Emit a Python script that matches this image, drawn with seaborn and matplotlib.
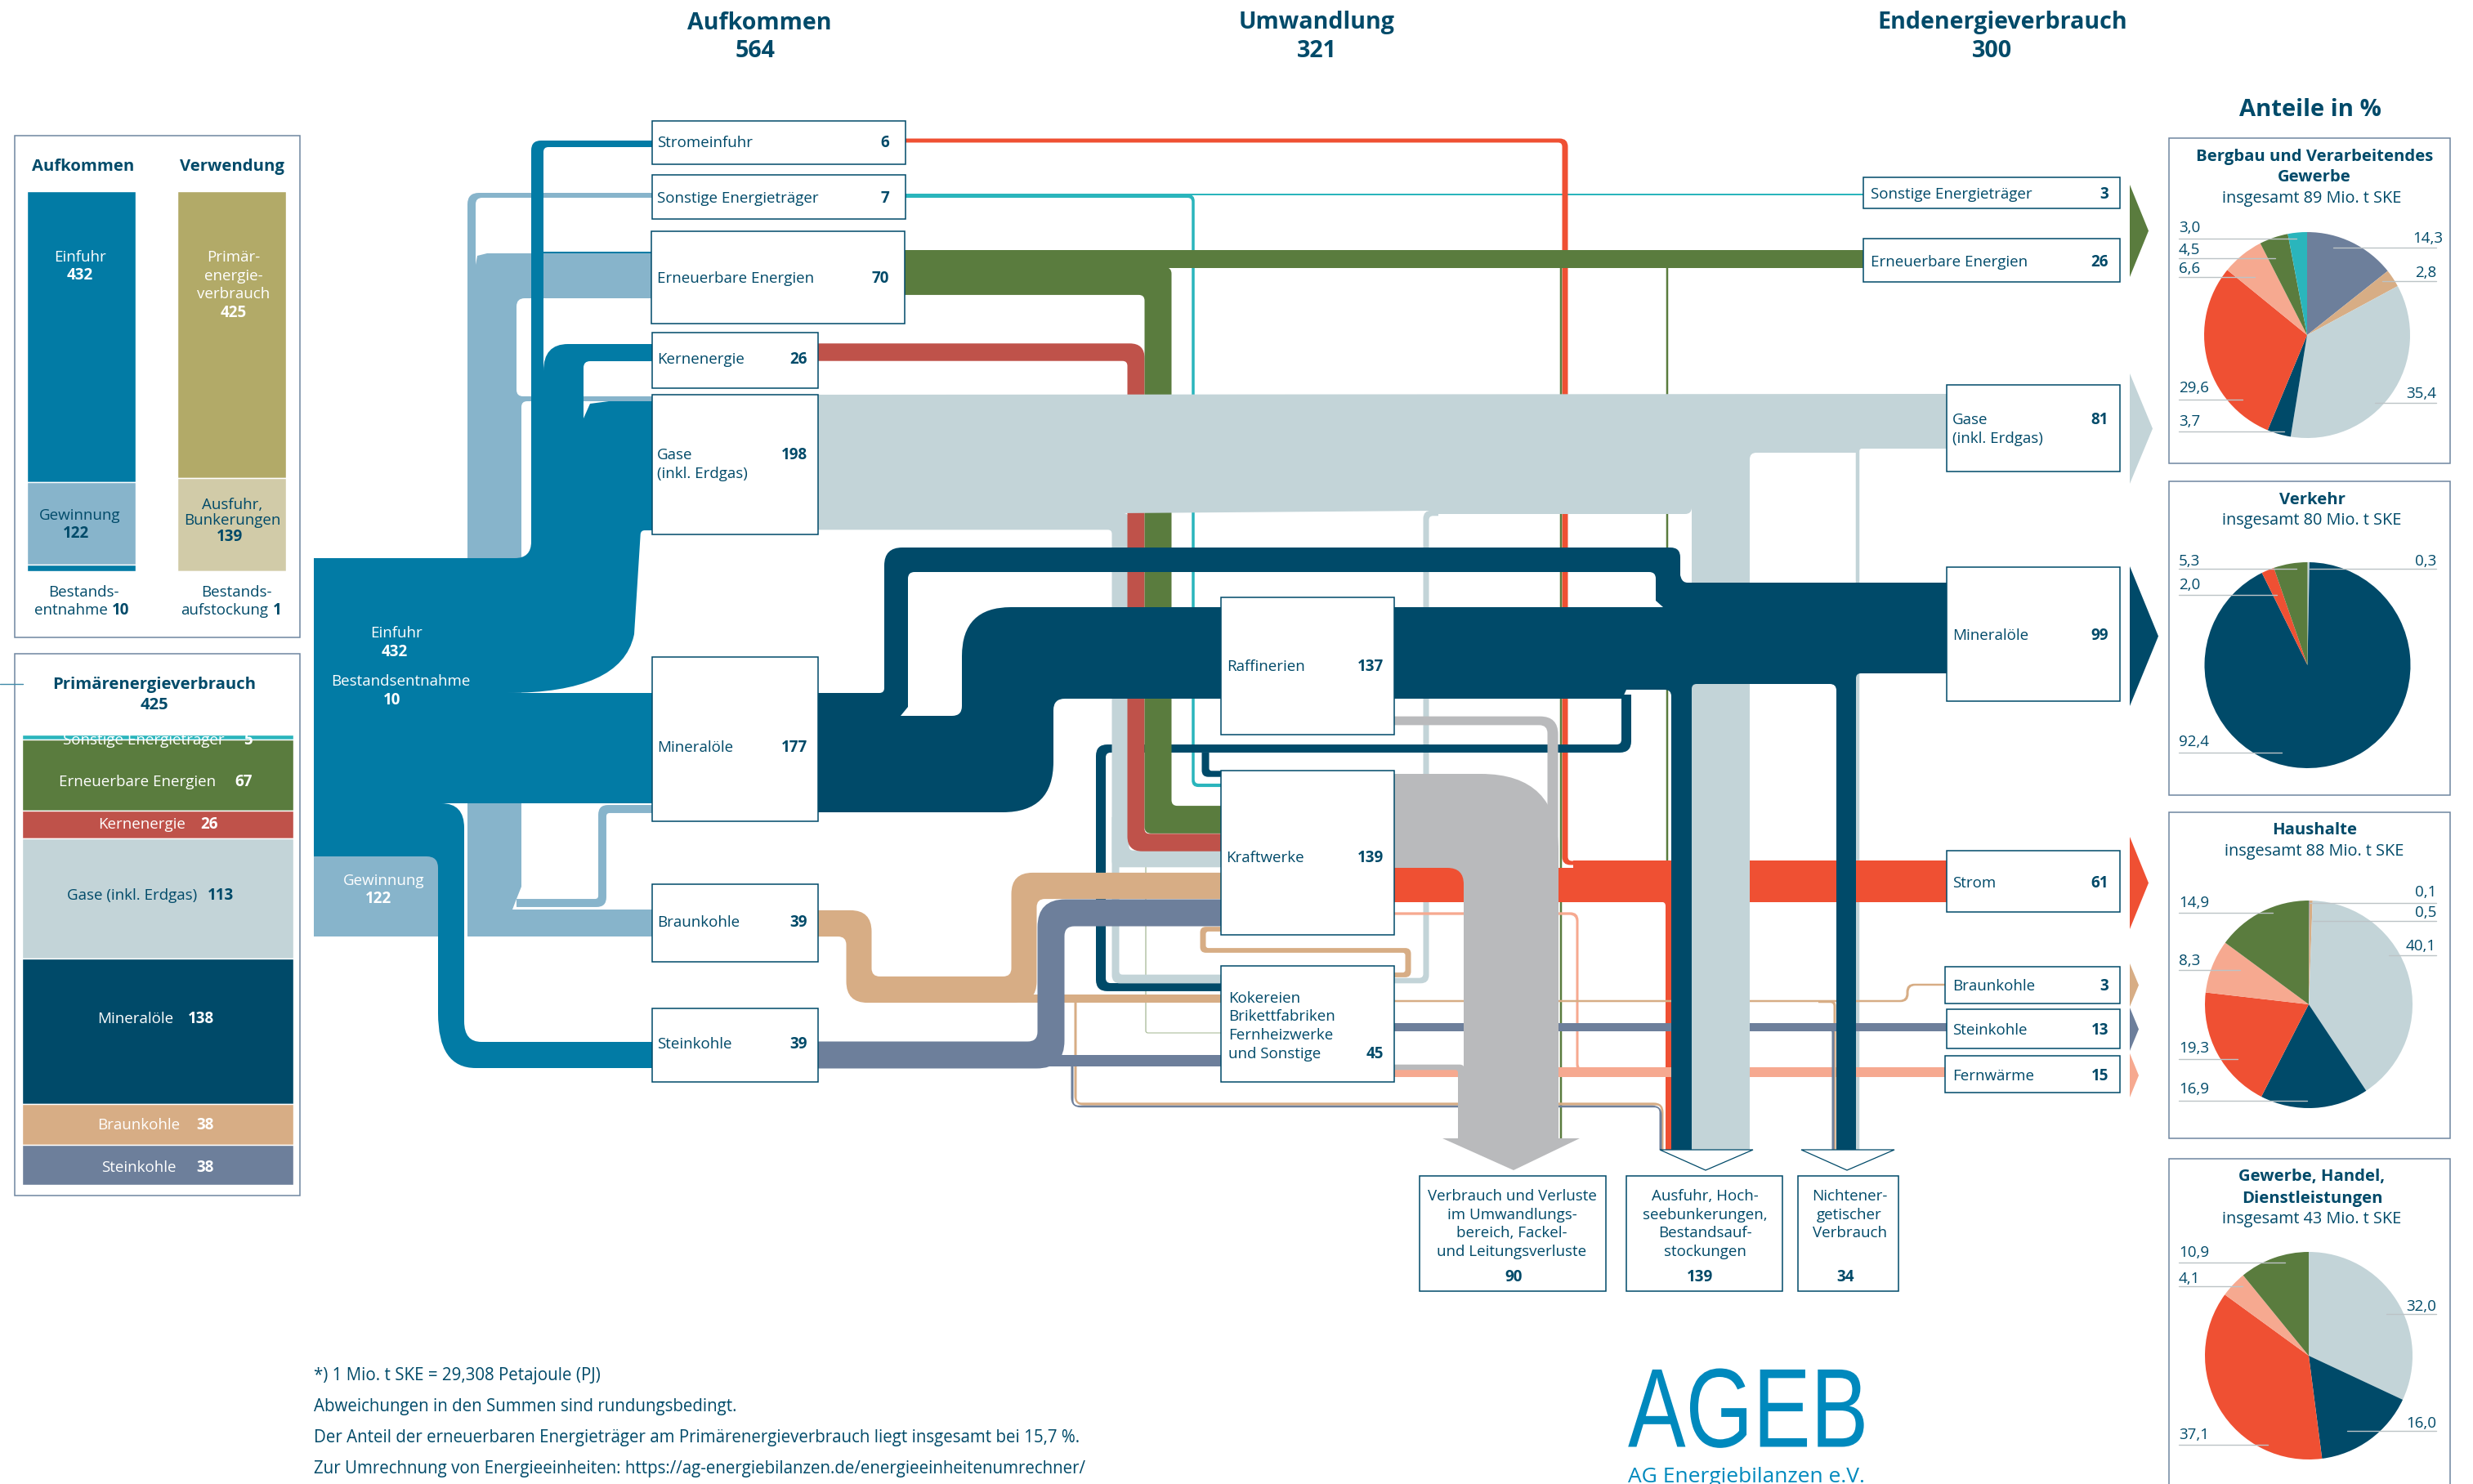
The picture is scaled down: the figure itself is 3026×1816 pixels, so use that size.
import numpy as np
import matplotlib
matplotlib.use("Agg")
import matplotlib.pyplot as plt
from matplotlib.path import Path
from matplotlib.patches import PathPatch, Rectangle, Polygon
from matplotlib.patheffects import AbstractPathEffect
from matplotlib.transforms import Affine2D
import seaborn as sns

# values, all Mio. t SKE or percent
bar_aufkommen_names = ["Einfuhr", "Gewinnung", "Bestandsentnahme"]
bar_aufkommen = [432, 122, 10]
bar_verwendung_names = ["Primärenergieverbrauch", "Ausfuhr, Bunkerungen", "Bestandsaufstockung"]
bar_verwendung = [425, 139, 1]

prim_names = ["Sonstige Energieträger", "Erneuerbare Energien", "Kernenergie", "Gase (inkl. Erdgas)",
              "Mineralöle", "Braunkohle", "Steinkohle"]
prim_values = [5, 67, 26, 113, 138, 38, 38]

left_names = ["Stromeinfuhr", "Sonstige Energieträger", "Erneuerbare Energien", "Kernenergie",
              "Gase\n(inkl. Erdgas)", "Mineralöle", "Braunkohle", "Steinkohle"]
left_values = [6, 7, 70, 26, 198, 177, 39, 39]
mid_names = ["Raffinerien", "Kraftwerke", "Kokereien\nBrikettfabriken\nFernheizwerke\nund Sonstige"]
mid_values = [137, 139, 45]
right_names = ["Sonstige Energieträger", "Erneuerbare Energien", "Gase\n(inkl. Erdgas)", "Mineralöle",
               "Strom", "Braunkohle", "Steinkohle", "Fernwärme"]
right_values = [3, 26, 81, 99, 61, 3, 13, 15]
out_names = ["Verbrauch und Verluste\nim Umwandlungs-\nbereich, Fackel-\nund Leitungsverluste",
             "Ausfuhr, Hoch-\nseebunkerungen,\nBestandsauf-\nstockungen",
             "Nichtener-\ngetischer\nVerbrauch"]
out_values = [90, 139, 34]

pie1 = [14.3, 2.8, 35.4, 3.7, 29.6, 6.6, 4.5, 3.0]
pie2 = [0.3, 92.4, 2.0, 5.3]
pie3 = [0.1, 0.5, 40.1, 16.9, 19.3, 8.3, 14.9]
pie4 = [32.0, 16.0, 37.1, 4.1, 10.9]

flow_gas = [25, 6, 13, 7]
flow_kern = 26
flow_ee = [26, 41, 3, 1]
flow_sonst = [3, 5]
flow_strom = [52, 6, 9, 12]
flow_waerme = [15, 4]
flow_braun = [39, 11, 4, 3]
flow_stein = [40, 18, 12, 3]
flow_oel = [12, 9]
flow_grau = [13, 8]

# colours
DARK = "#004A69"
BLUE = "#027BA5"
LIGHT = "#87B4CB"
GREEN = "#5A7C3E"
RED = "#BF524A"
GAS = "#C3D4D8"
TAN = "#D7AD85"
SLATE = "#6D7F9B"
STROM = "#EF5033"
WAERME = "#F6A990"
TEAL = "#2AB5BC"
GREY = "#B9BABC"
OLIVE = "#B2AA68"
PALE = "#D1CBA8"
EDGE = "#6F86A0"
LEAD = "#BCC3C6"

W, H = 3026, 1816
UY = 0.825   # px per unit, horizontal bands
FS = 13.5
FSB = 14.6

sns.set_theme(style="white")
plt.rcParams["font.family"] = ["Open Sans", "DejaVu Sans"]

fig = plt.figure(figsize=(W / 100, H / 100), dpi=100)


def px_axes(x0, y0, x1, y1, z=1):
    a = fig.add_axes([x0 / W, 1 - y1 / H, (x1 - x0) / W, (y1 - y0) / H], zorder=z)
    return a


ax = px_axes(0, 0, W, H, 0)
ax.set_xlim(0, W)
ax.set_ylim(H, 0)
ax.axis("off")
top = px_axes(0, 0, W, H, 5)
top.set_xlim(0, W)
top.set_ylim(H, 0)
top.axis("off")
top.patch.set_alpha(0)


def T(x, y, s, ha="left", bold=False, color=DARK, fs=FS, **kw):
    return top.text(x, y + 2, s, ha=ha, va="center", color=color, fontsize=fs,
                    fontweight="bold" if bold else "normal", linespacing=1.2, **kw)


class Squeeze(AbstractPathEffect):
    # the logo lettering is condensed, no such font here
    def __init__(self, x0, sx):
        super().__init__()
        self.x0, self.sx = x0, sx

    def draw_path(self, renderer, gc, tpath, affine, rgbFace):
        t = affine + Affine2D().translate(-self.x0, 0).scale(self.sx, 1).translate(self.x0, 0)
        renderer.draw_path(gc, tpath, t, rgbFace)


def rounded(verts):
    # closed outline, a vertex is (x, y) or (x, y, r) or (x, y, (r_in, r_out))
    pts = [np.array(v[:2], dtype=float) for v in verts]
    n = len(pts)
    codes, out = [], []
    for i, v in enumerate(verts):
        r = v[2] if len(v) > 2 else 0
        r1, r2 = r if isinstance(r, tuple) else (r, r)
        p, a, b = pts[i], pts[i - 1], pts[(i + 1) % n]
        if r1 == 0 and r2 == 0:
            out.append(p)
            codes.append(Path.LINETO)
            continue
        la, lb = np.linalg.norm(a - p), np.linalg.norm(b - p)
        out.append(p + (a - p) / la * min(r1, la))
        codes.append(Path.LINETO)
        out += [p, p + (b - p) / lb * min(r2, lb)]
        codes += [Path.CURVE3, Path.CURVE3]
    codes[0] = Path.MOVETO
    out.append(out[0])
    codes.append(Path.CLOSEPOLY)
    return Path(out, codes)


def blob(verts, color, z=2):
    ax.add_patch(PathPatch(rounded(verts), fc=color, ec="none", lw=0, zorder=z))


def flow(route, value, color, wx=None, r=14, ri=5, z=2):
    # band along a right-angled route, thickness comes from the value
    hy = value * UY / 2
    hx = (value * UY if wx is None else wx) / 2
    left, right = [], []
    for i, p in enumerate(route):
        dirs = []
        if i > 0:
            dirs.append(np.sign(np.subtract(route[i], route[i - 1])))
        if i < len(route) - 1:
            dirs.append(np.sign(np.subtract(route[i + 1], route[i])))
        if len(dirs) == 2 and (dirs[0] == dirs[1]).all():
            dirs = dirs[:1]
        ox, oy = 0, 0
        for d in dirs:
            ox += d[1] * hx
            oy += -d[0] * hy
        if len(dirs) == 2:
            cross = dirs[0][0] * dirs[1][1] - dirs[0][1] * dirs[1][0]
            rl, rr = (r, ri) if cross > 0 else (ri, r)
            left.append((p[0] + ox, p[1] + oy, rl))
            right.append((p[0] - ox, p[1] - oy, rr))
        else:
            left.append((p[0] + ox, p[1] + oy))
            right.append((p[0] - ox, p[1] - oy))
    blob(left + right[::-1], color, z)


def box(x0, y0, x1, y1):
    ax.add_patch(Rectangle((x0, y0), x1 - x0, y1 - y0, fc="white", ec=DARK, lw=1.1, zorder=10))


# ------- side panels
for x0, y0, x1, y1 in [(18, 166, 367, 780), (18, 800, 367, 1463)]:
    ax.add_patch(Rectangle((x0, y0), x1 - x0, y1 - y0, fc="white", ec=EDGE, lw=1.1, zorder=1))
ax.plot([0, 28], [837, 837], color="#3F8AA8", lw=1, zorder=3)

a = px_axes(33, 234, 350, 700)
bot = 0
for v, c in zip(bar_aufkommen, [BLUE, LIGHT, BLUE]):
    sns.barplot(x=[0], y=[v], bottom=bot, color=c, width=0.723, saturation=1, native_scale=True,
                errorbar=None, ax=a)
    bot += v
bot = 0
for v, c in zip(bar_verwendung, [OLIVE, PALE, DARK]):
    sns.barplot(x=[1], y=[v], bottom=bot, color=c, width=0.723, saturation=1, native_scale=True,
                errorbar=None, ax=a)
    bot += v
a.set_xlim(-0.3615, 1.3615)
a.set_ylim(565, 0)
a.axis("off")

a = px_axes(27, 899, 359, 1450)
bot = 0
for v, c in zip(prim_values, [TEAL, GREEN, RED, GAS, DARK, TAN, SLATE]):
    sns.barplot(x=[0], y=[v], bottom=bot, color=c, width=1, saturation=1, native_scale=True,
                errorbar=None, ax=a)
    bot += v
a.set_xlim(-0.5, 0.5)
a.set_ylim(sum(prim_values), 0)
a.axis("off")

T(102, 202, "Aufkommen", "center", True, fs=FSB)
T(284, 202, "Verwendung", "center", True, fs=FSB)
T(98, 313, bar_aufkommen_names[0], "center", color="white")
T(98, 335, str(bar_aufkommen[0]), "center", True, "white")
for y, s in zip([313, 336, 358], ["Primär-", "energie-", "verbrauch"]):
    T(286, y, s, "center", color="white")
T(286, 381, str(bar_verwendung[0]), "center", True, "white")
T(98, 629, bar_aufkommen_names[1], "center")
T(93, 651, str(bar_aufkommen[1]), "center", True)
T(284, 616, "Ausfuhr,", "center")
T(284, 635, "Bunkerungen", "center")
T(281, 655, str(bar_verwendung[1]), "center", True)
T(102, 723, "Bestands-", "center")
T(132, 745, "entnahme", "right")
T(137, 745, str(bar_aufkommen[2]), bold=True)
T(289, 723, "Bestands-", "center")
T(328, 745, "aufstockung", "right")
T(334, 745, str(bar_verwendung[2]), bold=True)

T(189, 836, "Primärenergieverbrauch", "center", True, fs=FSB)
T(189, 861, str(sum(prim_values)), "center", True, fs=FSB)
prim_y = [904, 955, 1007, 1094, 1245, 1375, 1427]
prim_nx = [275, 264, 227, 241, 212, 220, 216]
prim_col = ["white", "white", "white", DARK, "white", "white", "white"]
prim_vx = [309, 309, 267, 286, 262, 262, 262]
for n, v, y, nx, vx, c in zip(prim_names, prim_values, prim_y, prim_nx, prim_vx, prim_col):
    T(nx, y, n, "right", color=c)
    T(vx, y, str(v), "right", True, c)

# ------- flows, left part
blob([(798, 236), (798, 242), (582, 242, 8), (582, 324), (584, 313), (596, 310), (798, 310), (798, 365),
      (632, 365, 10), (632, 485, 8), (798, 485), (798, 491), (638, 491, 7), (638, 1085), (632, 1100), (627, 1113),
      (798, 1113), (798, 1146), (572, 1146), (572, 236, 14)], LIGHT)
flow([(632, 1105), (737, 1105), (737, 990), (798, 990)], 12, LIGHT, r=12, ri=4)
blob([(384, 683), (650, 683, 20), (650, 172, 12), (798, 172), (798, 180), (665, 180, 6), (665, 454),
      (665, 421, (33, 30)), (798, 421),
      (798, 442), (714, 442, 8), (714, 512), (722, 494), (745, 491), (798, 491), (798, 649), (784, 649, 5),
      (776, 776), (760, 848, (72, 140)), (620, 848), (798, 848), (798, 983), (540, 983), (568, 983, (28, 30)),
      (568, 1275, (25, 21)), (798, 1275), (798, 1307), (536, 1307, (46, 67)), (536, 1100), (384, 1100)], BLUE, 3)
flow([(665, 309), (798, 309)], 3, BLUE, z=3)
blob([(384, 1048), (536, 1048, 14), (536, 1146), (384, 1146)], LIGHT, 3)

# ------- flows, middle part (order matters, later ones lie on top)
flow([(1108, 238), (2280, 238)], flow_sonst[0], TEAL)
flow([(1108, 240), (1460, 240), (1460, 961), (1494, 961)], flow_sonst[1], TEAL, wx=3.5, r=8, ri=5)
flow([(1108, 172), (1915, 172), (1915, 1056), (2382, 1056)], flow_strom[1], STROM, wx=7, r=10, ri=5)
flow([(1900, 322), (1910, 322), (1910, 1393)], flow_ee[2], GREEN, wx=2.5, r=5, ri=3)
flow([(2025, 322), (2040, 322), (2040, 1410)], flow_ee[2], GREEN, wx=2.5, r=8, ri=5)
flow([(1402, 1040), (1402, 1264), (1494, 1264)], flow_ee[3], "#8FA77A", wx=1, r=3, ri=2)
flow([(1760, 628), (1745, 628), (1745, 1200), (1706, 1200)], flow_gas[1] + 2, GAS, wx=7, r=10, ri=5)
flow([(1990, 850), (1990, 916), (1347, 916), (1347, 1208), (1494, 1208)], flow_oel[0], DARK, wx=12, r=14, ri=6)
flow([(1475, 921), (1475, 947), (1494, 947)], flow_oel[1], DARK, wx=9, r=8, ri=3)
flow([(1001, 638), (1371, 638), (1371, 1051), (1494, 1051)], flow_gas[0], GAS, wx=21, r=8, ri=5)
flow([(1365, 1000), (1365, 1198), (1494, 1198)], flow_gas[2], GAS, wx=9, r=10, ri=4)
flow([(1001, 431), (1390, 431), (1390, 1031), (1494, 1031)], flow_kern, RED, wx=21, r=18, ri=6)
flow([(1107, 344), (1417, 344), (1417, 1003), (1494, 1003)], flow_ee[1], GREEN, wx=33, r=8, ri=7)
flow([(1107, 317), (2280, 317)], flow_ee[0], GREEN)
flow([(2300, 546), (2273, 546), (2273, 1407)], flow_gas[3], GAS, wx=4.5, r=5, ri=3)
blob([(1001, 483), (2382, 482), (2382, 549), (2275, 549), (2271, 554), (2141, 554, 8), (2141, 600), (2070, 600),
      (2070, 629, 8), (1760, 629), (1755, 625), (1370, 628), (1001, 628)], GAS)

flow([(1706, 1083), (2382, 1083)], flow_strom[0], STROM)
flow([(1925, 1058), (2382, 1058)], flow_strom[3], STROM)
flow([(2000, 1100), (2042, 1100), (2042, 1407)], flow_strom[2], STROM, wx=8, r=10, ri=5)
flow([(1706, 1118), (1930, 1118), (1930, 1311), (1960, 1311)], flow_waerme[1], WAERME, wx=3, r=10, ri=8)
flow([(1706, 1312), (2380, 1312)], flow_waerme[0], WAERME)

flow([(1706, 1225), (2334, 1225), (2334, 1205), (2380, 1205)], flow_braun[3], TAN, wx=3, r=10, ri=8)
flow([(2225, 1226), (2245, 1226), (2245, 1407)], flow_braun[3], TAN, wx=3, r=6, ri=4)
flow([(1230, 1222), (1494, 1222)], flow_braun[1], TAN)
flow([(1316, 1226), (1316, 1351), (2034, 1351), (2034, 1407)], flow_braun[2], TAN, wx=3, r=12, ri=6)
flow([(1001, 1130), (1051, 1130), (1051, 1211), (1253, 1211), (1253, 1084), (1494, 1084)], flow_braun[0], TAN,
     wx=31, r=26, ri=10)
flow([(1494, 1137), (1472, 1137), (1472, 1163), (1723, 1163), (1723, 1193), (1706, 1193)], 7, TAN, wx=7, r=7, ri=3)
flow([(1312, 1304), (1312, 1354), (2032, 1354), (2032, 1407)], flow_stein[3], SLATE, wx=3, r=12, ri=6)
flow([(1706, 1257), (2382, 1257)], flow_stein[2], SLATE)
flow([(2230, 1259), (2243, 1259), (2243, 1407)], flow_stein[3], SLATE, wx=3, r=6, ri=4)
flow([(1200, 1298), (1494, 1298)], flow_stein[1], SLATE)
flow([(1001, 1291), (1286, 1291), (1286, 1117), (1494, 1117)], flow_stein[0], SLATE, wx=33, r=34, ri=12)

# gas column to Ausfuhr lies over the bands, under the oil
blob([(2070, 590), (2141, 590), (2141, 1407), (2070, 1407)], GAS)

# mineral oil: loop over the refinery, and the refinery stream
blob([(1001, 848), (1082, 848, 6), (1082, 670, 22), (2056, 670, 12), (2056, 704), (2059, 713, 6), (2382, 713),
      (2382, 760), (2035, 760), (2035, 743), (2026, 735), (2026, 700, 8), (1111, 700, 8), (1111, 865), (1102, 876),
      (1001, 876)], DARK, 3)
blob([(1001, 876), (1177, 876, 12), (1177, 743, 60), (2382, 743), (2382, 824), (2271, 824, 6), (2271, 1407),
      (2247, 1407), (2247, 837, 8), (2070, 837, 6), (2070, 1407), (2045, 1407), (2045, 844, 8), (1990, 844),
      (1985, 855), (1289, 855, 14), (1289, 994, 62), (1001, 994)], DARK, 3)

# grey stream, consumption and losses
flow([(1706, 882), (1900, 882), (1900, 1060)], flow_grau[0], GREY, wx=13, r=22, ri=10, z=4)
flow([(1706, 1306), (1788, 1306), (1788, 1393)], flow_grau[1], GREY, wx=8, r=6, ri=3, z=4)
blob([(1706, 947), (1907, 947, 95), (1907, 1393), (1933, 1393), (1852, 1432), (1765, 1393), (1791, 1393),
      (1791, 1062, 20), (1706, 1062)], GREY, 4)

# ------- nodes
left_box = [(798, 148, 1108, 201), (798, 214, 1108, 268), (797, 283, 1107, 396), (798, 407, 1001, 475),
            (798, 483, 1001, 654), (798, 804, 1001, 1005), (798, 1082, 1001, 1177), (798, 1234, 1001, 1324)]
left_y = [173, 241, 339, 438, 555, 913, 1127, 1276]
left_vx = [1088, 1088, 1088, 988, 988, 988, 988, 988]
for b, n, v, y, vx in zip(left_box, left_names, left_values, left_y, left_vx):
    box(*b)
    for k, s in enumerate(n.split("\n")):
        T(804, y + 23 * k, s)
    T(vx, y, str(v), "right", True)

mid_box = [(1494, 731, 1706, 899), (1494, 943, 1706, 1144), (1494, 1182, 1706, 1324)]
for b in mid_box:
    box(*b)
T(1501, 814, mid_names[0])
T(1693, 814, str(mid_values[0]), "right", True)
T(1500, 1048, mid_names[1])
T(1693, 1048, str(mid_values[1]), "right", True)
for y, s in zip([1220, 1242, 1265, 1288], mid_names[2].split("\n")):
    T(1503, y, s)
T(1693, 1288, str(mid_values[2]), "right", True)

right_box = [(2280, 217, 2594, 255), (2280, 292, 2594, 345), (2382, 471, 2594, 577), (2382, 694, 2594, 858),
             (2382, 1041, 2594, 1116), (2380, 1183, 2594, 1228), (2382, 1235, 2594, 1283), (2380, 1292, 2594, 1337)]
right_y = [236, 319, 512, 776, 1079, 1205, 1259, 1315]
right_x = [2289, 2289, 2389, 2389, 2389, 2389, 2389, 2389]
for b, n, v, y, x in zip(right_box, right_names, right_values, right_y, right_x):
    box(*b)
    for k, s in enumerate(n.split("\n")):
        T(x, y + 23 * k, s)
    T(2580, y, str(v), "right", True)

arrows = [(226, 339, 2629, GREEN), (457, 592, 2634, GAS), (693, 864, 2641, DARK), (1024, 1137, 2629, STROM),
          (1179, 1232, 2617, TAN), (1233, 1286, 2617, SLATE), (1289, 1343, 2617, WAERME)]
for y0, y1, xt, c in arrows:
    ax.add_patch(Polygon([(2606, y0), (xt, (y0 + y1) / 2), (2606, y1)], fc=c, ec="none", zorder=5))

for x0, x1, xt in [(2031, 2145, 2087), (2204, 2318, 2260)]:
    ax.add_patch(Polygon([(x0, 1407), (x1, 1407), (xt, 1432)], fc="white", ec=DARK, lw=0.9, zorder=6))

out_box = [(1737, 1439, 1965, 1580), (1990, 1439, 2181, 1580), (2200, 1439, 2323, 1580)]
out_cx = [1850, 2086, 2263]
out_vx = [1852, 2080, 2258]
for b, n, v, cx, vx in zip(out_box, out_names, out_values, out_cx, out_vx):
    box(*b)
    for k, s in enumerate(n.split("\n")):
        T(cx, 1462 + 22.7 * k, s, "center")
    T(vx, 1561, str(v), "center", True)

# ------- headings
for x, s in [(929, "Aufkommen"), (1611, "Umwandlung"), (2450, "Endenergieverbrauch")]:
    T(x, 26, s, "center", True, fs=20.6)
for x, v in zip([924, 1611, 2437], [sum(bar_aufkommen), 321, 300]):
    T(x, 61, str(v), "center", True, fs=20.6)
T(2827, 132, "Anteile in %", "center", True, fs=21)

# ------- pies
for x0, y0, x1, y1 in [(2654, 169, 2998, 567), (2654, 589, 2998, 973), (2654, 994, 2998, 1393),
                       (2654, 1418, 2998, 1840)]:
    ax.add_patch(Rectangle((x0, y0), x1 - x0, y1 - y0, fc="white", ec=EDGE, lw=1.1, zorder=1))

pie_cols = [[SLATE, TAN, GAS, DARK, STROM, WAERME, GREEN, TEAL], [GAS, DARK, STROM, GREEN],
            [SLATE, TAN, GAS, DARK, STROM, WAERME, GREEN], [GAS, DARK, STROM, WAERME, GREEN]]
pie_pos = [(2823, 410, 126), (2823.5, 814, 126), (2825, 1229, 127), (2825, 1659, 127)]
for vals, cols, (cx, cy, r) in zip([pie1, pie2, pie3, pie4], pie_cols, pie_pos):
    a = px_axes(cx - r, cy - r, cx + r, cy + r, 1)
    a.pie(vals, colors=cols, startangle=90, counterclock=False, radius=1, wedgeprops={"lw": 0})
    a.set_xlim(-1, 1)
    a.set_ylim(-1, 1)

# label text y, leader y, leader inner x; the left column then the right column
lab_left = [(pie1[7], 279, 292, 2810), (pie1[6], 306, 316, 2784), (pie1[5], 329, 339, 2759),
            (pie1[4], 475, 489, 2744), (pie1[3], 516, 528, 2795),
            (pie2[3], 687, 696, 2810), (pie2[2], 716, 728, 2786), (pie2[1], 908, 921, 2792),
            (pie3[6], 1105, 1117, 2781), (pie3[5], 1176, 1187, 2741), (pie3[4], 1283, 1296, 2738),
            (pie3[3], 1333, 1347, 2823),
            (pie4[4], 1533, 1545, 2796), (pie4[3], 1565, 1574, 2744), (pie4[2], 1756, 1768, 2775)]
lab_right = [(pie1[0], 292, 303, 2855), (pie1[1], 334, 344, 2915), (pie1[2], 482, 493, 2906),
             (pie2[0], 687, 696, 2826),
             (pie3[0], 1092, 1105, 2826), (pie3[1], 1117, 1127, 2830), (pie3[2], 1158, 1169, 2923),
             (pie4[0], 1599, 1608, 2920), (pie4[1], 1742, 1751, 2872)]
for v, ty, ly, lx in lab_left:
    T(2666, ty - 2, f"{v:.1f}".replace(".", ","))
    top.plot([2666, lx], [ly, ly], color=LEAD, lw=1)
for v, ty, ly, lx in lab_right:
    T(2989 if v == pie1[0] else 2981, ty - 2, f"{v:.1f}".replace(".", ","), "right")
    top.plot([lx, 2981], [ly, ly], color=LEAD, lw=1)

T(2832, 190, "Bergbau und Verarbeitendes", "center", True, fs=FSB)
T(2832, 215, "Gewerbe", "center", True, fs=FSB)
T(2829, 241, "insgesamt 89 Mio. t SKE", "center", fs=14.3)
T(2829, 610, "Verkehr", "center", True, fs=FSB)
T(2829, 635, "insgesamt 80 Mio. t SKE", "center", fs=14.3)
T(2832, 1014, "Haushalte", "center", True, fs=FSB)
T(2832, 1040, "insgesamt 88 Mio. t SKE", "center", fs=14.3)
T(2829, 1438, "Gewerbe, Handel,", "center", True, fs=FSB)
T(2829, 1465, "Dienstleistungen", "center", True, fs=FSB)
T(2829, 1490, "insgesamt 43 Mio. t SKE", "center", fs=14.3)

# ------- sankey source labels, footnotes, logo
T(485, 773, bar_aufkommen_names[0], "center", color="white")
T(483, 796, str(bar_aufkommen[0]), "center", True, "white")
T(490, 832, bar_aufkommen_names[2], "center", color="white")
T(480, 855, str(bar_aufkommen[2]), "center", True, "white")
T(470, 1076, bar_aufkommen_names[1], "center", color="white")
T(463, 1098, str(bar_aufkommen[1]), "center", True, "white")

notes = ["*) 1 Mio. t SKE = 29,308 Petajoule (PJ)", "Abweichungen in den Summen sind rundungsbedingt.",
         "Der Anteil der erneuerbaren Energieträger am Primärenergieverbrauch liegt insgesamt bei 15,7 %.",
         "Zur Umrechnung von Energieeinheiten: https://ag-energiebilanzen.de/energieeinheitenumrechner/"]
for y, s in zip([1681, 1719, 1757, 1795], notes):
    T(384, y, s, fs=14.8)

logo = top.text(1992, 1735, "AGEB", va="center", color="#0089BD", fontsize=99, family="Liberation Sans")
logo.set_path_effects([Squeeze(1992, 0.77)])
T(1992, 1806, "AG Energiebilanzen e.V.", color="#0089BD", fs=19)

fig.savefig("out.png", dpi=100)
